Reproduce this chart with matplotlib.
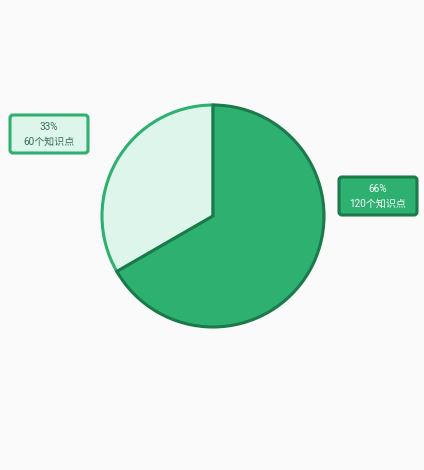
import matplotlib.pyplot as plt
from matplotlib.patches import FancyBboxPatch

plt.rcParams["font.family"] = ["Roboto", "Noto Sans CJK SC", "DejaVu Sans"]

counts = [120, 60]
percents = ["66%", "33%"]
units = ["120个知识点", "60个知识点"]
fills = ["#2db070", "#ddf5ea"]
edges = ["#1b7a4a", "#2db070"]
text_colors = ["white", "#3a6e55"]

fig = plt.figure(figsize=(4.24, 4.70), dpi=100, facecolor="#fafafa")
ax = fig.add_axes([0, 0, 1, 1])

wedges, _ = ax.pie(
    counts,
    center=(213, 254),
    radius=111,
    startangle=90,
    counterclock=False,
    colors=fills,
    frame=True,
)
for w, ec in zip(wedges, edges):
    w.set_edgecolor(ec)
    w.set_linewidth(2.2)
# big slice on top so the dark dividing lines show
wedges[0].set_zorder(3)
wedges[1].set_zorder(2)

ax.set_xlim(0, 424)
ax.set_ylim(0, 470)
ax.set_aspect("equal")
ax.axis("off")

# label boxes (right for big slice, left for small one)
box_centers = [(378, 274), (49, 336)]
for (cx, cy), pct, unit, fc, ec, tc in zip(box_centers, percents, units, fills, edges, text_colors):
    box = FancyBboxPatch(
        (cx - 39, cy - 19), 78, 38,
        boxstyle="round,pad=0,rounding_size=3",
        facecolor=fc, edgecolor=ec, linewidth=2.2, zorder=4,
    )
    ax.add_patch(box)
    ax.text(cx, cy + 7.5, pct, ha="center", va="center", fontsize=7.2, color=tc, zorder=5)
    ax.text(cx, cy - 7.5, unit, ha="center", va="center", fontsize=7.2, color=tc, zorder=5)

fig.savefig("out.png", dpi=100, facecolor=fig.get_facecolor())
